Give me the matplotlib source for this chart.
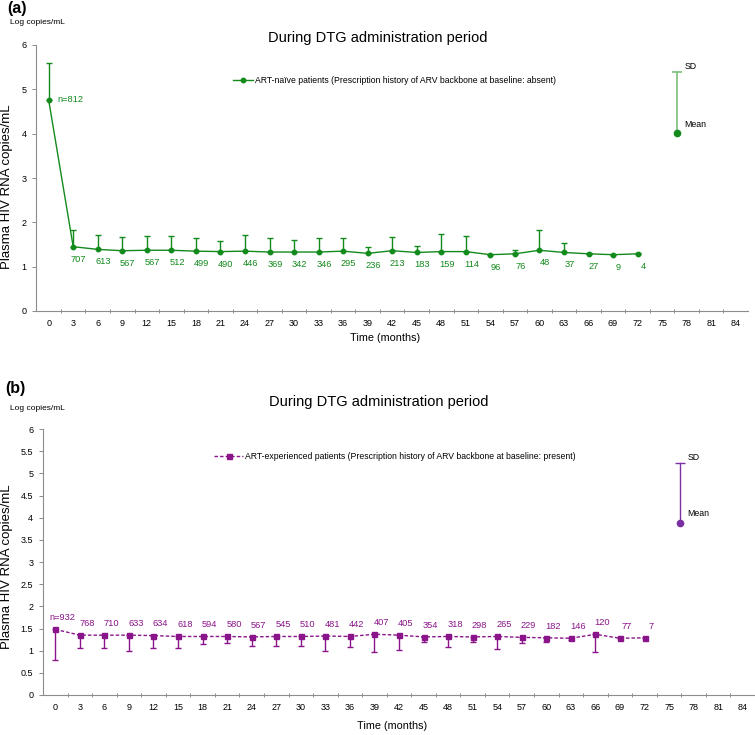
import numpy as np
import matplotlib
matplotlib.use("Agg")
import matplotlib.pyplot as plt

plt.rcParams['font.family'] = ['Liberation Sans', 'DejaVu Sans']

# ---------------- data ----------------
months = list(range(0, 73, 3))
tick_months = list(range(0, 85, 3))

naive_mean = [4.76, 1.45, 1.39, 1.36, 1.37, 1.37, 1.35, 1.34, 1.35, 1.33, 1.33, 1.33, 1.35,
              1.30, 1.36, 1.32, 1.34, 1.34, 1.27, 1.29, 1.37, 1.32, 1.29, 1.27, 1.29]
naive_sd = [0.84, 0.38, 0.33, 0.31, 0.33, 0.33, 0.30, 0.25, 0.37, 0.31, 0.27, 0.31, 0.30,
            0.14, 0.32, 0.15, 0.39, 0.35, np.nan, 0.09, 0.45, 0.22, 0.02, np.nan, 0.01]
naive_n = [812, 707, 613, 567, 567, 512, 499, 490, 446, 369, 342, 346, 295,
           236, 213, 183, 159, 114, 96, 76, 48, 37, 27, 9, 4]

exp_mean = [1.48, 1.35, 1.35, 1.35, 1.34, 1.32, 1.32, 1.32, 1.31, 1.32, 1.32, 1.33, 1.32,
            1.37, 1.35, 1.31, 1.32, 1.31, 1.32, 1.30, 1.29, 1.28, 1.37, 1.28, 1.29]
exp_sd = [0.69, 0.30, 0.30, 0.36, 0.27, 0.27, 0.17, 0.15, 0.21, 0.21, 0.22, 0.34, 0.23,
          0.40, 0.34, 0.12, 0.23, 0.11, 0.29, 0.13, 0.09, 0.05, 0.40, np.nan, np.nan]
exp_n = [932, 768, 710, 633, 634, 618, 594, 580, 567, 545, 510, 481, 442,
         407, 405, 354, 318, 298, 265, 229, 182, 146, 120, 77, 7]

# SD / Mean key
key_a_x, key_a_mean, key_a_sd = [76.8], [4.02], [1.36]
key_b_x, key_b_mean, key_b_sd = [76.3], [3.88], [1.35]

naive_label = "ART-naïve patients (Prescription history of ARV backbone at baseline: absent)"
exp_label = "ART-experienced patients (Prescription history of ARV backbone at baseline: present)"
title = "During DTG administration period"

GREEN = '#138a1c'
GREEN_LIGHT = '#7cc07c'
PURPLE = '#8a158a'
VIOLET = '#7a2fa3'
SPINE = '#8c8c8c'

W, H = 755, 735
fig = plt.figure(figsize=(W / 100, H / 100), dpi=100)

ax_a = fig.add_axes([36.4 / W, 1 - 311 / H, 711.6 / W, 266 / H])
ax_b = fig.add_axes([43 / W, 1 - 695 / H, 712 / W, 266 / H])


def style_axes(ax, yticks, yfmt):
    ax.set_xlim(-1.5, 85.5)
    ax.set_ylim(0, 6)
    for s in ['top', 'right']:
        ax.spines[s].set_visible(False)
    for s in ['left', 'bottom']:
        ax.spines[s].set_color(SPINE)
        ax.spines[s].set_linewidth(0.8)
    ax.set_xticks(tick_months)
    ax.set_xticklabels([str(m) for m in tick_months], fontsize=6.5)
    ax.set_xticks(np.arange(1.5, 85.5, 3), minor=True)
    ax.tick_params(axis='x', which='major', length=0, pad=6)
    ax.tick_params(axis='x', which='minor', length=3, direction='inout', color=SPINE, width=0.7)
    ax.set_yticks(yticks)
    ax.set_yticklabels([yfmt(v) for v in yticks], fontsize=6.5)
    ax.tick_params(axis='y', length=3, color=SPINE, width=0.7, pad=4)


def draw_key(ax, x, mean, sd, line_color, marker_color, lw, mean_dy):
    top = [m + s for m, s in zip(mean, sd)]
    ax.plot([x[0], x[0]], [mean[0], top[0]], color=line_color, lw=lw)
    ax.plot(x, top, marker='_', ms=7, mew=lw, color=line_color, ls='none')
    ax.plot(x, mean, 'o', color=marker_color, ms=4.5)
    ax.annotate("SD", (x[0], top[0]), xytext=(5.5, 4), textcoords='offset points',
                ha='left', va='center', fontsize=6.3)
    ax.annotate("Mean", (x[0], mean[0]), xytext=(5.5, mean_dy), textcoords='offset points',
                ha='left', va='center', fontsize=6.3)


# ---------------- panel (a) ----------------
style_axes(ax_a, list(range(0, 7)), lambda v: str(v))
ax_a.errorbar(months, naive_mean,
              yerr=[np.zeros(len(naive_sd)), np.array(naive_sd)],
              color=GREEN, fmt='none', elinewidth=1.0, capsize=2.5, capthick=1.0)
ax_a.plot(months, naive_mean, color=GREEN, lw=1.0, marker='o', ms=3.2, label=naive_label)
for i, (m, v, n) in enumerate(zip(months, naive_mean, naive_n)):
    if i == 0:
        ax_a.annotate(f"n={n}", (m, v), xytext=(6, 0), textcoords='offset points',
                      ha='left', va='center', fontsize=6.7, color=GREEN)
    else:
        ax_a.annotate(str(n), (m, v), xytext=(4, -9), textcoords='offset points',
                      ha='center', va='center', fontsize=6.7, color=GREEN)

draw_key(ax_a, key_a_x, key_a_mean, key_a_sd, GREEN_LIGHT, GREEN, 1.2, 6)

ax_a.legend(loc='center left', bbox_to_anchor=(0.276, 0.868), frameon=False,
            fontsize=6.2, handlelength=2.3, handletextpad=0.3,
            borderpad=0, borderaxespad=0)

ax_a.set_xlabel("Time (months)", fontsize=7.8)
ax_a.xaxis.set_label_coords(0.49, -0.083)

fig.text(7 / W, 1 - 8 / H, "(a)", fontsize=11.5, fontweight='bold', ha='left', va='center')
fig.text(10 / W, 1 - 23 / H, "Log copies/mL", fontsize=6, ha='left', va='center')
fig.text(377.5 / W, 1 - 38 / H, title, fontsize=10.5, ha='center', va='center')
fig.text(7 / W, 1 - 187 / H, "Plasma HIV RNA copies/mL", fontsize=9.5, rotation=90,
         ha='center', va='center')

# ---------------- panel (b) ----------------
style_axes(ax_b, list(np.arange(0, 6.01, 0.5)), lambda v: f"{v:g}")
ax_b.errorbar(months, exp_mean,
              yerr=[np.array(exp_sd), np.zeros(len(exp_sd))],
              color=PURPLE, fmt='none', elinewidth=1.0, capsize=2.5, capthick=1.0)
ax_b.plot(months, exp_mean, color=PURPLE, lw=1.0, ls=(0, (2.5, 1.5)), marker='s', ms=3.6,
          label=exp_label)
for i, (m, v, n) in enumerate(zip(months, exp_mean, exp_n)):
    txt = f"n={n}" if i == 0 else str(n)
    ax_b.annotate(txt, (m, v), xytext=(5, 8.5), textcoords='offset points',
                  ha='center', va='center', fontsize=6.7, color=PURPLE)

draw_key(ax_b, key_b_x, key_b_mean, key_b_sd, VIOLET, VIOLET, 1.0, 7)

ax_b.legend(loc='center left', bbox_to_anchor=(0.240, 0.896), frameon=False,
            fontsize=6.2, handlelength=3.4, handletextpad=0.2,
            borderpad=0, borderaxespad=0)

ax_b.set_xlabel("Time (months)", fontsize=7.8)
ax_b.xaxis.set_label_coords(0.49, -0.097)

fig.text(5 / W, 1 - 388 / H, "(b)", fontsize=11.5, fontweight='bold', ha='left', va='center')
fig.text(10 / W, 1 - 408 / H, "Log copies/mL", fontsize=6, ha='left', va='center')
fig.text(379 / W, 1 - 401.7 / H, title, fontsize=10.5, ha='center', va='center')
fig.text(7.5 / W, 1 - 567 / H, "Plasma HIV RNA copies/mL", fontsize=9.5, rotation=90,
         ha='center', va='center')

fig.savefig("out.png", dpi=100)
